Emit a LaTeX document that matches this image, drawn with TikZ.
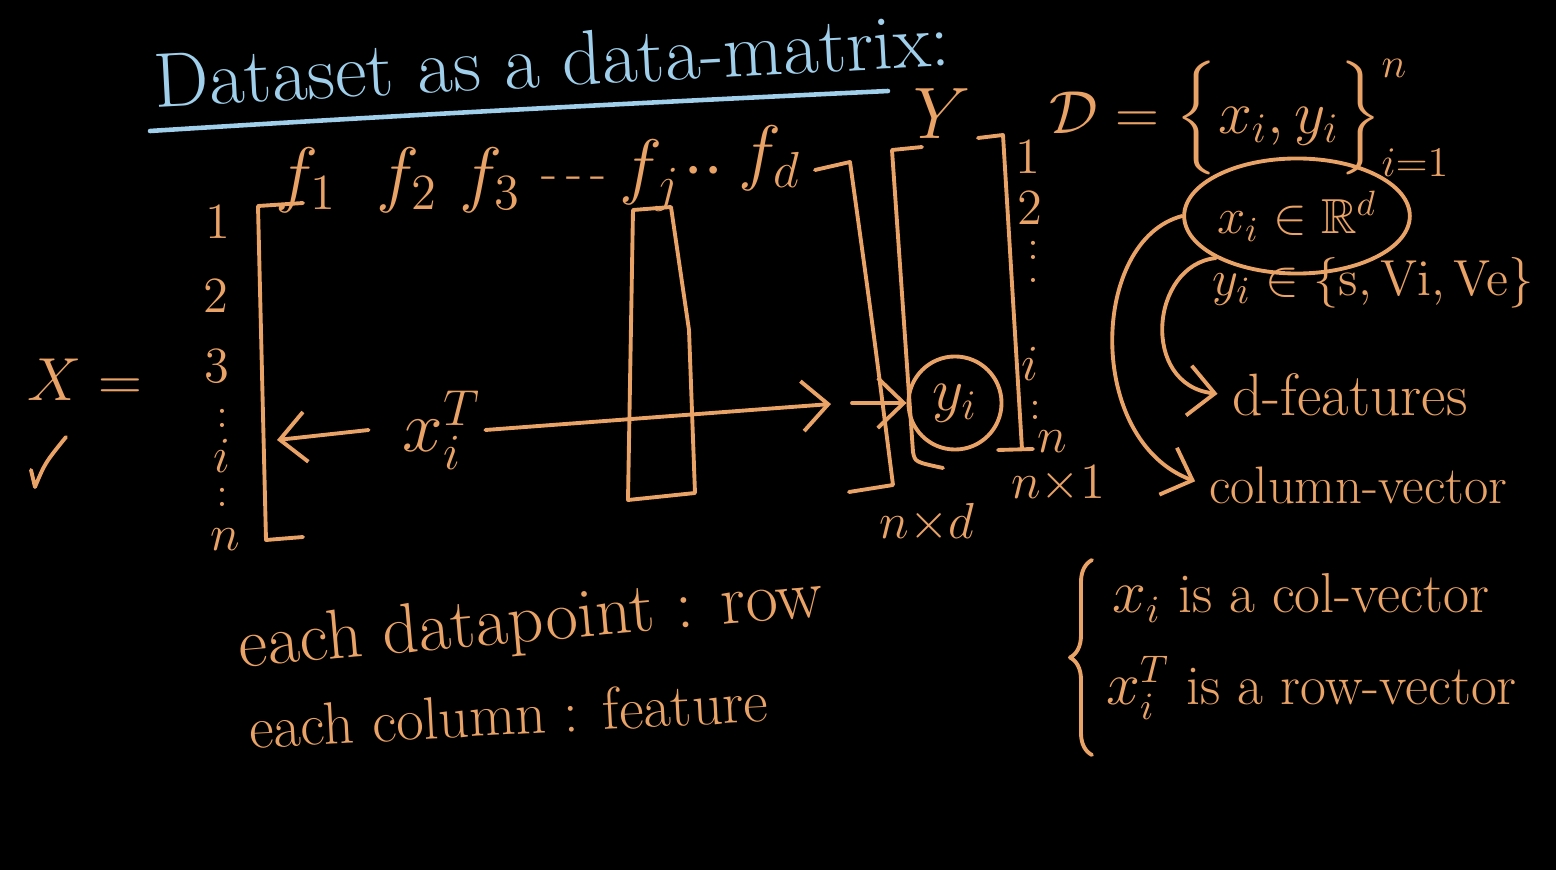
\documentclass[tikz,border=0pt]{standalone}
\usepackage{amsmath,amssymb}
\usetikzlibrary{arrows.meta, positioning, calc, shapes.geometric, decorations.pathreplacing}
\definecolor{chalkOrange}{HTML}{EAA366}
\definecolor{chalkBlue}{HTML}{9FCFEA}
\definecolor{boardBlack}{HTML}{000000}
\tikzset{
  ink/.style={draw=chalkOrange, line width=1.1pt, line cap=round, line join=round},
  inkArrow/.style={ink, -{Straight Barb[length=2.6mm, width=5mm]}},
  handL/.style={text=chalkOrange, font=\fontsize{20}{24}\selectfont, inner sep=1pt},
  handM/.style={text=chalkOrange, font=\fontsize{18}{22}\selectfont, inner sep=1pt},
  handS/.style={text=chalkOrange, font=\fontsize{15}{18}\selectfont, inner sep=1pt},
  handXS/.style={text=chalkOrange, font=\fontsize{12}{14}\selectfont, inner sep=0pt},
  titleTxt/.style={text=chalkBlue, font=\fontsize{22}{26}\selectfont, inner sep=1pt},
}

\begin{document}
\begin{tikzpicture}[x=0.01cm, y=-0.01cm]
  \fill[boardBlack] (0,0) rectangle (1556,870);
  \useasboundingbox (0,0) rectangle (1556,870);

  % title
  \node[titleTxt, rotate=3] (title) at (552,60) {Dataset as a data-matrix:};
  \draw[chalkBlue, line width=1.3pt, line cap=round] (150,131) .. controls (450,112) and (700,100) .. (888,91);

  % data matrix X
  \node[handM, font=\fontsize{17}{20}\selectfont] (Xeq) at (85,380) {$X =$};
  \draw[ink] (31,470) -- (35,487) .. controls (45,463) .. (66,437);
  \node[handS] (r1) at (218,222) {$1$};
  \node[handS] (r2) at (216,296) {$2$};
  \node[handS] (r3) at (217,366) {$3$};
  \node[handXS] (rd1) at (222,418) {$:$};
  \node[handS] (ri) at (222,456) {$i$};
  \node[handXS] (rd2) at (222,497) {$:$};
  \node[handS] (rn) at (225,540) {$n$};
  \draw[ink] (303,203) -- (258,206) -- (266,540) -- (303,537);
  \node[handL] (f1) at (306,180) {$f_1$};
  \node[handL] (f2) at (407,180) {$f_2$};
  \node[handL] (f3) at (490,180) {$f_3$};
  \node[handS] (fdash) at (574,183) {-\,-\,-};
  \node[handL] (fj) at (650,176) {$f_j$};
  \node[handL] (fdot) at (704,172) {$\cdot\cdot$};
  \node[handL] (fd) at (770,158) {$f_d$};
  \draw[ink] (815,170) -- (850,162) .. controls (872,320) .. (893,485) -- (849,492);
  \draw[ink] (633,210) -- (671,207) -- (689,330) -- (695,493) -- (628,500) -- cycle;
  \node[handS] (nxd) at (927,523) {$n{\times}d$};

  % target Y
  \node[handL] (Ylab) at (942,114) {$Y$};
  \draw[ink] (922,147) -- (892,150) -- (913,452) .. controls (915,462) .. (943,468);
  \draw[ink] (978,138) -- (1003,135) -- (1022,449);
  \draw[ink] (998,450) -- (1033,449);
  \node[circle, ink, handM, minimum size=0.93cm, inner sep=0pt] (yi) at (955,403) {$y_i$};
  \node[handS] (y1) at (1028,157) {$1$};
  \node[handS] (y2) at (1030,208) {$2$};
  \node[handXS] (yd1) at (1033,250) {$:$};
  \node[handXS] (yd1b) at (1033,280) {$.$};
  \node[handS] (yi2) at (1030,364) {$i$};
  \node[handXS] (yd2) at (1035,410) {$:$};
  \node[handS] (yn) at (1052,442) {$n$};
  \node[handS] (nx1) at (1058,484) {$n{\times}1$};

  % row x_i^T
  \node[handL] (xiT) at (442,430) {$x_i^{T}$};
  \coordinate (leftEnd) at (277,440);
  \coordinate (midEnd) at (831,404);
  \coordinate (midStart) at (852,403);
  \draw[inkArrow] ([xshift=-0.3cm]xiT.west) -- (leftEnd);
  \draw[inkArrow] (xiT.east) -- (midEnd);
  \draw[inkArrow] (midStart) -- (yi.west);

  % dataset D
  \node[handM] (Dset) at (1250,118) {$\mathcal{D} = \Bigl\{ x_i, y_i \Bigr\}_{i=1}^{n}$};
  \node[ellipse, ink, text=chalkOrange, font=\fontsize{14}{17}\selectfont, inner sep=0pt,
        minimum width=2.2cm, minimum height=1.15cm] (xR) at (1297,216) {$x_i \in \mathbb{R}^d$};
  \node[handS] (ySet) at (1373,283) {$y_i \in \{\mathrm{s}, \mathrm{Vi}, \mathrm{Ve}\}$};
  \node[handS, font=\fontsize{17}{20}\selectfont, anchor=west] (dFeat) at (1228,395) {d-features};
  \node[handS, anchor=west] (colVec) at (1205,485) {column-vector};
  \draw[inkArrow, shorten >=3pt] (xR.west) .. controls (1090,240) and (1085,440) .. (colVec.west);
  \draw[inkArrow, shorten >=3pt] (xR.south west) .. controls (1150,265) and (1140,385) .. (dFeat.west);

  % notes
  \node[handS, font=\fontsize{16}{19}\selectfont, anchor=west] (colNote) at (1108,598) {$x_i$ is a col-vector};
  \node[handS, font=\fontsize{16}{19}\selectfont, anchor=west] (rowNote) at (1102,688) {$x_i^{T}$ is a row-vector};
  \draw[ink, decorate, decoration={brace, amplitude=0.22cm}] (1092,755) -- (1092,560);
  \node[handM, font=\fontsize{20}{24}\selectfont, anchor=west, rotate=5] (noteRow) at (235,650) {each datapoint : row};
  \node[handM, font=\fontsize{17}{20}\selectfont, anchor=west, rotate=3] (noteCol) at (245,728) {each column : feature};
\end{tikzpicture}
\end{document}
